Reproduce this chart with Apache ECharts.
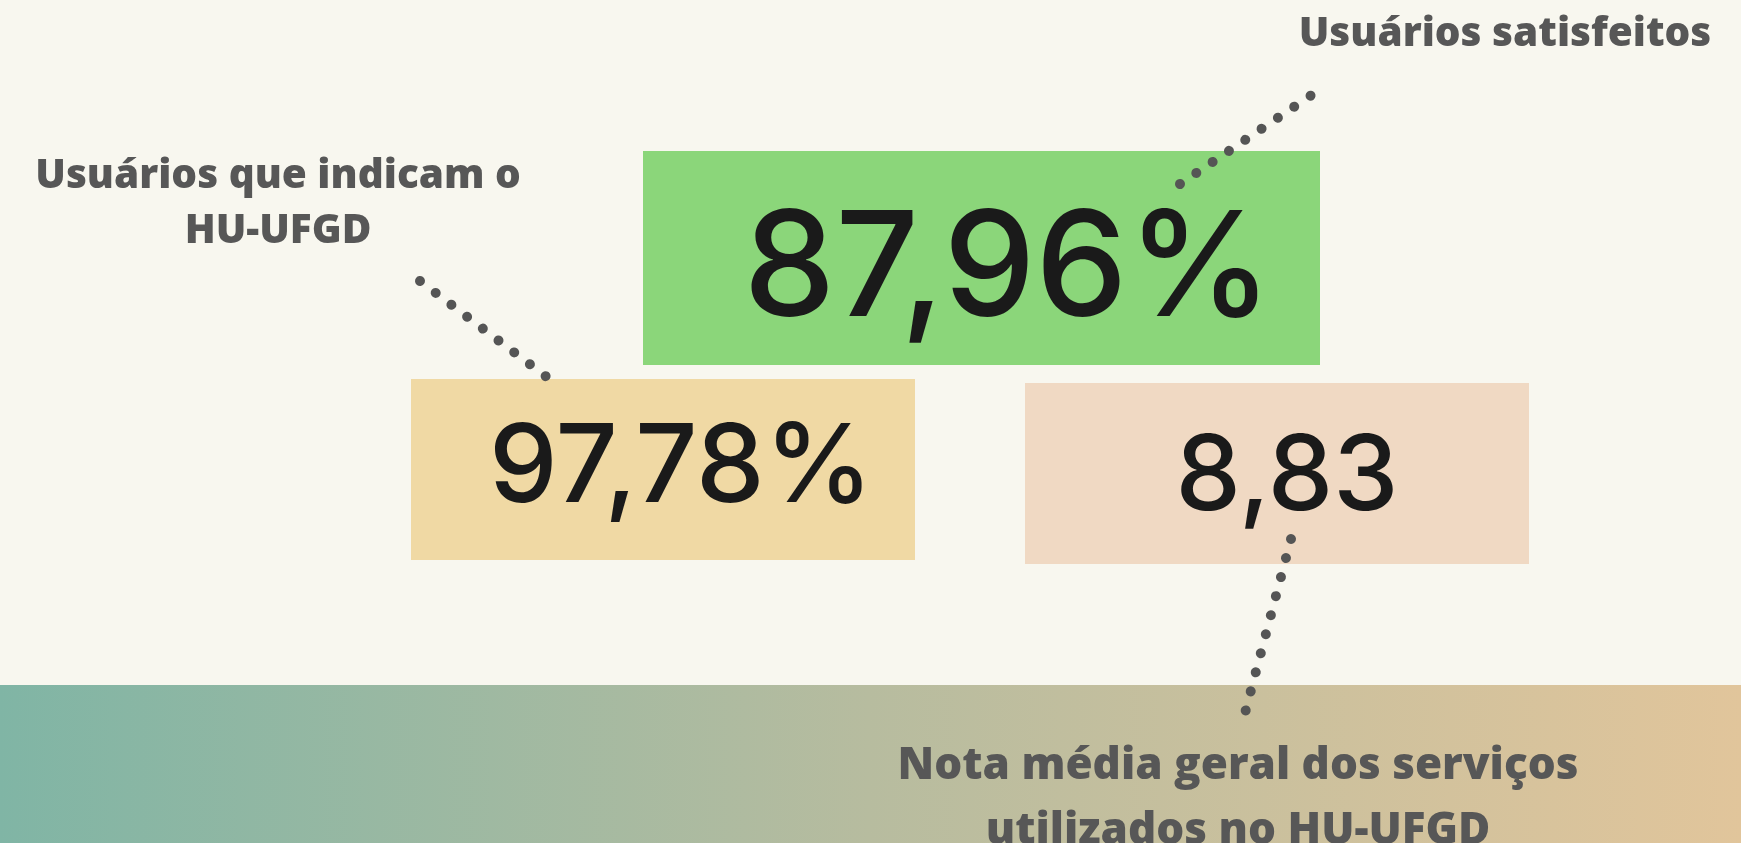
<!DOCTYPE html>
<html><head><meta charset="utf-8">
<script src="https://cdn.jsdelivr.net/npm/echarts@6/dist/echarts.min.js"></script>
<style>html,body{margin:0;padding:0;background:#f8f7ef;overflow:hidden}#c{width:1741px;height:843px}</style>
</head><body><div id="c"></div>
<script>
// ---- data ----
const categories = ['Usuários satisfeitos', 'Usuários que indicam o HU-UFGD', 'Nota média geral dos serviços utilizados no HU-UFGD'];
const values = [87.96, 97.78, 8.83];
const units = ['%', '%', ''];
const labelLines = [['Usuários satisfeitos'], ['Usuários que indicam o', 'HU-UFGD'], ['Nota média geral dos serviços', 'utilizados no HU-UFGD']];

// ---- layout (pixel space of the 1741x843 canvas) ----
const W = 1741, H = 843;
const boxes = [[643, 151, 1320, 365], [411, 379, 915, 560], [1025, 383, 1529, 564]];
const boxColors = ['#8bd67a', '#f0d9a4', '#f0d9c3'];
const valuePos = [[1008, 272, 146], [681, 469, 109], [1287, 479, 104]];
const labelPos = [[1505, [34]], [278, [176, 231]], [1238, [766, 831]]];
const labelSize = [40.5, 40.5, 44];
const connectors = [[[1180, 184], [1313, 94]], [[420, 281], [548, 378]], [[1291, 539], [1245, 713]]];

const valueFont = 'Inter';
const labelFont = '"Open Sans"';

function fmt(v, u) { return v.toFixed(2).replace('.', ',') + u; }

const chart = echarts.init(document.getElementById('c'), null, { renderer: 'canvas' });
chart.setOption({
  backgroundColor: '#f8f7ef',
  animation: false,
  grid: { left: 0, right: 0, top: 0, bottom: 0 },
  xAxis: { type: 'value', min: 0, max: W, show: false },
  yAxis: { type: 'value', min: 0, max: H, inverse: true, show: false },
  graphic: [{
    type: 'rect', z: 0, silent: true,
    shape: { x: 0, y: 685, width: W, height: H - 685 },
    style: { fill: new echarts.graphic.LinearGradient(0, 0, 1, 0, [
      { offset: 0, color: '#80b5a5' }, { offset: 0.5, color: '#b7bc9f' }, { offset: 1, color: '#e1c59b' }]) }
  }],
  series: [
    {
      type: 'custom', z: 3, silent: true,
      data: values.map((v, i) => [i, v]),
      renderItem: function (params, api) {
        const i = params.dataIndex, b = boxes[i];
        const p0 = api.coord([b[0], b[1]]), p1 = api.coord([b[2], b[3]]);
        const vp = api.coord([valuePos[i][0], valuePos[i][1]]);
        return { type: 'group', children: [
          { type: 'rect', shape: { x: p0[0], y: p0[1], width: p1[0] - p0[0], height: p1[1] - p0[1] }, style: { fill: boxColors[i] } },
          { type: 'text', x: vp[0], y: vp[1], style: { text: fmt(api.value(1), units[i]), font: '500 ' + valuePos[i][2] + 'px ' + valueFont, fill: '#1a1a1a', align: 'center', verticalAlign: 'middle' } }
        ] };
      }
    },
    {
      type: 'lines', coordinateSystem: 'cartesian2d', z: 5, silent: true,
      data: connectors.map(c => ({ coords: c })),
      lineStyle: { color: '#555555', width: 10, type: [0.001, 19.7], cap: 'round', opacity: 1, curveness: 0 }
    },
    {
      type: 'custom', z: 6, silent: true,
      data: categories.map((c, i) => [i]),
      renderItem: function (params, api) {
        const i = params.dataIndex;
        const children = labelLines[i].map((t, k) => {
          const p = api.coord([labelPos[i][0], labelPos[i][1][k]]);
          return { type: 'text', x: p[0], y: p[1], style: { text: t, font: '800 ' + labelSize[i] + 'px ' + labelFont, fill: '#575757', align: 'center', verticalAlign: 'middle' } };
        });
        return { type: 'group', children };
      }
    }
  ]
});
</script></body></html>
